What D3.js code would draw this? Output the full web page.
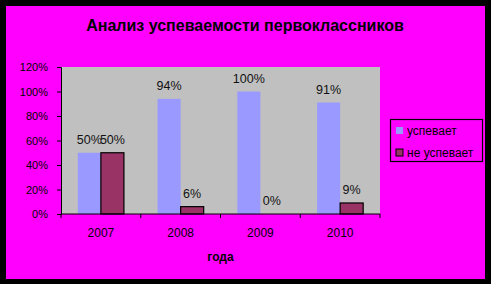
<!DOCTYPE html>
<html><head><meta charset="utf-8">
<script src="https://cdn.jsdelivr.net/npm/d3@7"></script>
<style>html,body{margin:0;padding:0;background:#000;overflow:hidden}svg{display:block}text{font-family:Arial,"Liberation Sans",sans-serif}</style>
</head><body>
<script>
const years = ["2007","2008","2009","2010"];
const seriesNames = ["успевает","не успевает"];
const passing = [50,94,100,91];
const failing = [50,6,0,9];
const yTicks = [0,20,40,60,80,100,120];
const colors = ["#9999FF","#993366"];

const W=491,H=284;
const svg=d3.select("body").append("svg").attr("width",W).attr("height",H);
svg.append("rect").attr("x",0).attr("y",0).attr("width",W).attr("height",H).attr("fill","#000");
svg.append("rect").attr("x",6).attr("y",6).attr("width",479).attr("height",273).attr("fill","#FF00FF");

const pl=61,pr=380,pt=67,pb=214;
svg.append("rect").attr("x",pl).attr("y",pt).attr("width",pr-pl).attr("height",pb-pt).attr("fill","#C0C0C0");

const x=d3.scaleBand().domain(years).range([pl,pr]).paddingInner(0).paddingOuter(0);
const xi=d3.scaleBand().domain([0,1]).range([0,x.bandwidth()]).paddingInner(0).paddingOuter(0.73);
const y=d3.scaleLinear().domain([0,120]).range([pb,pt]);

svg.append("text").attr("x",245).attr("y",31).attr("text-anchor","middle")
  .attr("font-size","16px").attr("font-weight","bold").attr("fill","#000")
  .text("Анализ успеваемости первоклассников");

const data=[passing,failing];
data.forEach((vals,s)=>{
  svg.append("g").selectAll("rect").data(vals).join("rect")
    .attr("x",(d,i)=>x(years[i])+xi(s)).attr("width",xi.bandwidth())
    .attr("y",d=>y(d)).attr("height",d=>pb-y(d))
    .attr("fill",colors[s])
    .attr("stroke",s===1?"#000":"none").attr("stroke-width",1.2)
    .attr("display",d=>d===0?"none":null);
  svg.append("g").selectAll("text").data(vals).join("text")
    .attr("x",(d,i)=>x(years[i])+xi(s)+xi.bandwidth()/2)
    .attr("y",d=>y(d)-9).attr("text-anchor","middle")
    .attr("font-size","12.5px").attr("fill","#111")
    .text(d=>d+"%");
});

const ya=svg.append("g").attr("transform",`translate(${pl},0)`)
  .call(d3.axisLeft(y).tickValues(yTicks).tickSize(4).tickPadding(9).tickFormat(d=>d+"%"));
ya.selectAll("text").attr("font-size","11px").attr("fill","#000").attr("font-family","Arial, 'Liberation Sans', sans-serif");
ya.selectAll("line,path").attr("stroke","#000");

const xa=svg.append("g").attr("transform",`translate(0,${pb})`)
  .call(d3.axisBottom(x).tickSize(0).tickPadding(14));
xa.selectAll("text").attr("font-size","12px").attr("fill","#000").attr("font-family","Arial, 'Liberation Sans', sans-serif");
xa.select("path").attr("stroke","#000").attr("d",`M${pl},0H${pr}`);
xa.selectAll(".tk").data([...years.map(d=>x(d)),pr]).join("line").attr("class","tk")
  .attr("x1",d=>d).attr("x2",d=>d).attr("y1",0).attr("y2",4).attr("stroke","#000");

svg.append("text").attr("x",(pl+pr)/2).attr("y",261).attr("text-anchor","middle")
  .attr("font-size","12px").attr("font-weight","bold").attr("fill","#000").text("года");

const lg=svg.append("g");
lg.append("rect").attr("x",390.5).attr("y",119.5).attr("width",92).attr("height",42)
  .attr("fill","none").attr("stroke","#000").attr("stroke-width",1.2);
seriesNames.forEach((n,i)=>{
  lg.append("rect").attr("x",396).attr("y",127+i*22).attr("width",7).attr("height",7)
    .attr("fill",colors[i]).attr("stroke",i===1?"#000":"none");
  lg.append("text").attr("x",407).attr("y",135+i*22).attr("font-size","12px").attr("fill","#000").text(n);
});
</script>
</body></html>
